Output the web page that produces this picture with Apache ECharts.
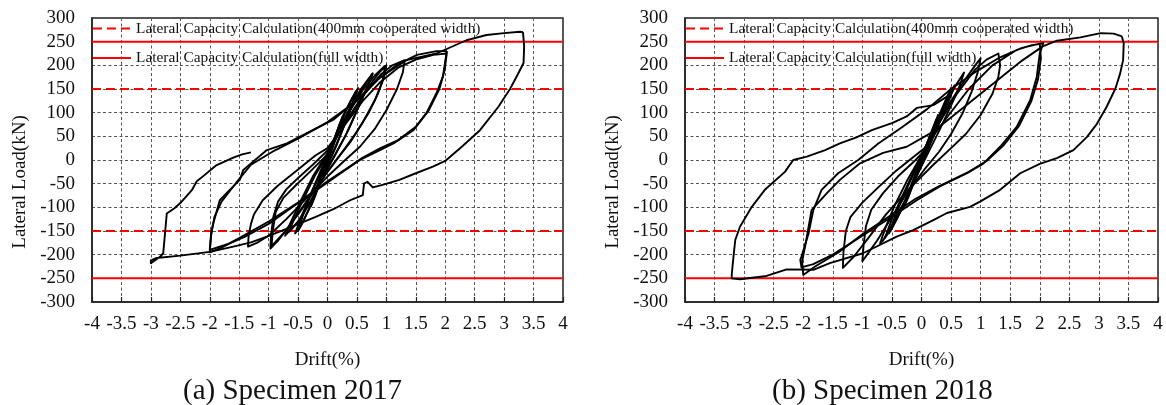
<!DOCTYPE html>
<html><head><meta charset="utf-8">
<script src="https://cdn.jsdelivr.net/npm/echarts@6/dist/echarts.min.js"></script>
<style>html,body{margin:0;padding:0;background:#fff}#c{width:1166px;height:405px}</style>
</head><body><div id="c"></div>
<script>
// ---------- axis ranges / labels ----------
const driftRange = [-4, 4];
const driftStep = 0.5;
const loadRange = [-300, 300];
const loadStep = 50;
const xTitle = 'Drift(%)';
const yTitle = 'Lateral Load(kN)';
const subTitles = ['(a) Specimen 2017', '(b) Specimen 2018'];
const legendNames = ['Lateral Capacity Calculation(400mm cooperated width)', 'Lateral Capacity Calculation(full width)'];
const cap400 = 150;   // kN, dashed
const capFull = 250;  // kN, solid

// ---------- Specimen 2017 hysteresis (drift %, load kN) ----------
const s17_025a = [[0,0],[0.1,38],[0.2,72],[0.26,92],[0.22,75],[0.12,42],[0.02,5],[-0.1,-35],[-0.2,-70],[-0.27,-92],[-0.22,-70],[-0.12,-35],[-0.02,0]];
const s17_025b = [[-0.02,0],[0.1,40],[0.2,74],[0.28,96],[0.2,66],[0.1,30],[0,-4],[-0.1,-38],[-0.2,-73],[-0.28,-98],[-0.2,-66],[-0.1,-30],[0,3]];
const s17_05a = [[0,3],[0.12,45],[0.25,90],[0.38,122],[0.48,145],[0.42,118],[0.3,78],[0.15,30],[0,-12],[-0.15,-55],[-0.3,-100],[-0.42,-132],[-0.5,-150],[-0.42,-118],[-0.28,-72],[-0.12,-28],[0,8]];
const s17_05b = [[0,8],[0.15,55],[0.3,100],[0.42,130],[0.52,152],[0.44,122],[0.3,78],[0.14,30],[-0.02,-15],[-0.18,-62],[-0.32,-105],[-0.45,-138],[-0.55,-155],[-0.42,-112],[-0.26,-64],[-0.1,-18],[0.02,12]];
const s17_075a = [[0.02,12],[0.2,65],[0.4,115],[0.58,152],[0.7,172],[0.77,183],[0.7,160],[0.55,118],[0.35,62],[0.15,15],[-0.05,-30],[-0.25,-80],[-0.45,-122],[-0.6,-145],[-0.66,-152],[-0.55,-120],[-0.38,-75],[-0.2,-30],[0,10]];
const s17_075b = [[0,10],[0.2,60],[0.4,110],[0.6,152],[0.76,182],[0.66,150],[0.5,105],[0.3,50],[0.1,5],[-0.1,-40],[-0.3,-90],[-0.5,-130],[-0.72,-160],[-0.62,-130],[-0.45,-85],[-0.25,-35],[0,15]];
const s17_10a = [[0,15],[0.2,62],[0.4,108],[0.6,148],[0.8,178],[0.95,196],[1.0,200],[0.96,175],[0.85,138],[0.7,100],[0.5,60],[0.3,25],[0.1,-8],[-0.15,-50],[-0.4,-95],[-0.65,-140],[-0.85,-172],[-0.97,-187],[-0.96,-160],[-0.92,-120],[-0.84,-88],[-0.7,-62],[-0.5,-38],[-0.25,-10],[0,20]];
const s17_10b = [[0,20],[0.25,70],[0.5,115],[0.7,155],[0.88,185],[0.98,197],[0.93,165],[0.8,125],[0.6,80],[0.4,40],[0.2,8],[0,-25],[-0.25,-70],[-0.5,-115],[-0.75,-155],[-0.95,-182],[-0.93,-150],[-0.88,-110],[-0.75,-80],[-0.55,-55],[-0.3,-25],[0,12]];
const s17_13 = [[0,12],[0.3,80],[0.6,135],[0.9,180],[1.1,200],[1.31,211],[1.28,185],[1.18,150],[1.0,105],[0.8,65],[0.55,28],[0.3,0],[0,-35],[-0.35,-80],[-0.7,-125],[-1.0,-160],[-1.2,-175],[-1.35,-183],[-1.34,-160],[-1.3,-135],[-1.25,-115],[-1.1,-85],[-0.85,-55],[-0.5,-20],[-0.2,10],[0,25]];
const s17_20a = [[0,25],[0.3,75],[0.6,125],[0.9,165],[1.2,195],[1.5,212],[1.8,222],[2.02,225],[1.96,176],[1.85,141],[1.68,99],[1.46,63],[1.12,35],[0.89,21],[0.55,0],[0.2,-30],[-0.2,-65],[-0.6,-100],[-1.0,-135],[-1.4,-162],[-1.7,-178],[-2.0,-190],[-1.97,-150],[-1.94,-134],[-1.83,-85],[-1.66,-63],[-1.49,-42],[-1.43,-21],[-1.03,21],[-0.69,35],[-0.3,60],[0.1,85],[0.5,127],[0.84,169],[1.18,201],[1.52,222],[1.85,230],[2.03,230]];
const s17_20b = [[2.03,230],[1.99,190],[1.9,150],[1.72,105],[1.5,70],[1.2,42],[0.9,25],[0.6,5],[0.3,-20],[0,-45],[-0.5,-90],[-1.0,-130],[-1.5,-165],[-1.8,-185],[-2.0,-195],[-1.98,-160],[-1.92,-120],[-1.8,-88],[-1.55,-48],[-1.3,-10],[-0.9,20],[-0.5,45],[0,80],[0.5,125],[0.9,175],[1.34,211],[1.85,225],[2.36,253],[2.7,264],[3.0,268],[3.27,271],[3.32,270]];
const s17_33 = [[3.32,270],[3.34,240],[3.33,205],[3.22,178],[3.1,150],[2.9,112],[2.59,63],[2.3,30],[2.0,-2],[1.79,-14],[1.5,-28],[1.22,-42],[0.95,-52],[0.77,-58],[0.68,-46],[0.62,-50],[0.6,-74],[0.4,-84],[0.1,-104],[-0.2,-120],[-0.47,-134],[-0.75,-148],[-1.03,-162],[-1.3,-174],[-1.6,-183],[-2.0,-194],[-2.5,-202],[-2.9,-207],[-3.0,-212],[-3.0,-218],[-2.85,-205],[-2.79,-197],[-2.76,-155],[-2.73,-113],[-2.6,-102],[-2.5,-91],[-2.3,-63],[-2.22,-45],[-2.1,-33],[-1.9,-12],[-1.6,5],[-1.45,12],[-1.3,16]];

// ---------- Specimen 2018 hysteresis (drift %, load kN) ----------
const s18_025a = [[0,0],[0.08,28],[0.16,55],[0.25,85],[0.18,60],[0.08,25],[0,-3],[-0.1,-35],[-0.2,-68],[-0.27,-90],[-0.2,-62],[-0.1,-28],[0,2]];
const s18_025b = [[0,2],[0.1,38],[0.2,70],[0.28,95],[0.2,62],[0.1,28],[-0.02,-10],[-0.12,-45],[-0.22,-78],[-0.3,-100],[-0.22,-70],[-0.1,-30],[0.01,5]];
const s18_05a = [[0.01,5],[0.15,50],[0.3,95],[0.42,130],[0.5,152],[0.42,122],[0.28,78],[0.12,30],[-0.02,-15],[-0.18,-62],[-0.35,-108],[-0.48,-140],[-0.55,-155],[-0.45,-120],[-0.3,-75],[-0.12,-25],[0.02,10]];
const s18_05b = [[0.02,10],[0.18,58],[0.35,105],[0.48,140],[0.56,158],[0.46,125],[0.3,78],[0.12,25],[-0.05,-25],[-0.22,-72],[-0.4,-120],[-0.55,-152],[-0.62,-165],[-0.5,-125],[-0.32,-75],[-0.15,-30],[0,8]];
const s18_075 = [[0,8],[0.2,65],[0.4,115],[0.58,158],[0.72,185],[0.65,158],[0.5,115],[0.3,62],[0.1,12],[-0.1,-38],[-0.3,-90],[-0.5,-138],[-0.65,-170],[-0.7,-176],[-0.6,-140],[-0.45,-95],[-0.25,-45],[0,10]];
const s18_10 = [[0,10],[0.25,72],[0.5,125],[0.75,172],[0.92,202],[1.0,215],[0.95,185],[0.85,145],[0.7,100],[0.5,55],[0.3,18],[0.05,-20],[-0.25,-70],[-0.5,-120],[-0.75,-170],[-0.92,-200],[-1.0,-214],[-0.98,-180],[-0.94,-140],[-0.85,-105],[-0.65,-70],[-0.4,-35],[-0.1,0],[0.05,20]];
const s18_13 = [[0.05,20],[0.3,78],[0.6,140],[0.9,190],[1.1,212],[1.3,225],[1.33,228],[1.33,200],[1.3,176],[1.2,140],[1.0,95],[0.75,55],[0.5,25],[0.2,-10],[-0.2,-60],[-0.6,-115],[-0.9,-165],[-1.15,-205],[-1.33,-228],[-1.32,-195],[-1.28,-150],[-1.2,-120],[-1.0,-90],[-0.75,-60],[-0.45,-25],[-0.1,10],[0.05,25]];
const s18_20a = [[0.05,25],[0.4,85],[0.8,150],[1.2,200],[1.6,232],[1.85,242],[2.06,247],[2.0,225],[1.95,176],[1.84,127],[1.61,70],[1.33,28],[1.05,-7],[0.77,-28],[0.31,-56],[-0.08,-85],[-0.5,-120],[-1.0,-160],[-1.5,-200],[-1.83,-220],[-2.03,-227],[-2.05,-211],[-2.03,-204],[-1.91,-155],[-1.83,-106],[-1.69,-63],[-1.41,-28],[-1.07,0],[-0.73,35],[-0.3,72],[0.1,108],[0.5,150],[0.9,185],[1.3,215],[1.7,237],[2.0,246]];
const s18_20b = [[2.0,246],[2.02,215],[1.97,170],[1.86,125],[1.65,72],[1.38,30],[1.1,-2],[0.8,-25],[0.3,-55],[-0.1,-82],[-0.5,-115],[-1.0,-157],[-1.4,-195],[-1.8,-225],[-2.0,-243],[-2.02,-215],[-1.95,-170],[-1.86,-106],[-1.6,-70],[-1.38,-42],[-1.04,-7],[-0.65,15],[-0.25,28],[0.2,60],[0.7,110],[1.2,160],[1.7,210],[2.05,240],[2.29,252],[2.69,259],[3.03,268],[3.25,267],[3.39,261]];
const s18_33 = [[3.39,261],[3.42,246],[3.41,211],[3.36,183],[3.28,151],[3.13,112],[2.97,77],[2.8,49],[2.57,21],[2.29,4],[2.0,-8],[1.67,-28],[1.33,-63],[0.99,-88],[0.82,-99],[0.43,-112],[0.2,-127],[-0.14,-148],[-0.42,-162],[-0.99,-197],[-1.55,-218],[-1.83,-232],[-2.28,-231],[-2.62,-245],[-3.07,-252],[-3.21,-250],[-3.21,-243],[-3.18,-204],[-3.15,-169],[-3.07,-141],[-2.87,-99],[-2.65,-63],[-2.31,-25],[-2.17,0],[-1.94,7],[-1.63,21],[-1.38,35],[-1.1,48],[-0.84,63],[-0.5,78],[-0.25,92],[-0.08,110],[0.2,116],[0.43,134],[0.5,140]];

const curve2017 = [s17_025a, s17_025b, s17_05a, s17_05b, s17_075a, s17_075b, s17_10a, s17_10b, s17_13, s17_20a, s17_20b, s17_33];
const curve2018 = [s18_025a, s18_025b, s18_05a, s18_05b, s18_075, s18_10, s18_13, s18_20a, s18_20b, s18_33];

// ---------- chart ----------
const FONT = "'Times New Roman', 'Liberation Serif', serif";
const chart = echarts.init(document.getElementById('c'), null, {renderer: 'canvas'});
const grids = [
  {left: 92, top: 18, width: 471, height: 284},
  {left: 685, top: 18, width: 473, height: 284}
];
function xAx(i){
  return {gridIndex: i, type: 'value', min: driftRange[0], max: driftRange[1], interval: driftStep,
    name: xTitle, nameLocation: 'middle', nameGap: 49, nameMoveOverlap: false,
    nameTextStyle: {fontFamily: FONT, fontSize: 19, color: '#111'},
    axisLine: {show: true, onZero: false, lineStyle: {color: '#222', width: 1.5}},
    axisTick: {show: true, inside: true, length: 5, lineStyle: {color: '#222', width: 1.2}},
    axisLabel: {fontFamily: FONT, fontSize: 19, color: '#111', margin: 13, hideOverlap: false, showMinLabel: true, showMaxLabel: true},
    splitLine: {show: true, lineStyle: {color: '#555', type: [3, 2.5], width: 1}}};
}
function yAx(i){
  return {gridIndex: i, type: 'value', min: loadRange[0], max: loadRange[1], interval: loadStep,
    name: yTitle, nameLocation: 'middle', nameGap: 62, nameMoveOverlap: false,
    nameTextStyle: {fontFamily: FONT, fontSize: 19, color: '#111', padding: [0, 44, 0, 0]},
    axisLine: {show: true, onZero: false, lineStyle: {color: '#222', width: 1.5}},
    axisTick: {show: false},
    axisLabel: {fontFamily: FONT, fontSize: 19, color: '#111', margin: 17, hideOverlap: false, showMinLabel: true, showMaxLabel: true},
    splitLine: {show: true, lineStyle: {color: '#555', type: [3, 2.5], width: 1}}};
}
const series = [];
[0, 1].forEach(function(i){
  [cap400, -cap400].forEach(function(v){
    series.push({name: legendNames[0], type: 'line', xAxisIndex: i, yAxisIndex: i, symbol: 'none', showSymbol: false, silent: true, z: 2,
      lineStyle: {color: '#ff0000', width: 2, type: [9, 5]}, itemStyle: {color: '#ff0000'},
      data: [[driftRange[0], v], [driftRange[1], v]]});
  });
  [capFull, -capFull].forEach(function(v){
    series.push({name: legendNames[1], type: 'line', xAxisIndex: i, yAxisIndex: i, symbol: 'none', showSymbol: false, silent: true, z: 2,
      lineStyle: {color: '#ff0000', width: 2, type: 'solid'}, itemStyle: {color: '#ff0000'},
      data: [[driftRange[0], v], [driftRange[1], v]]});
  });
  const curves = i === 0 ? curve2017 : curve2018;
  curves.forEach(function(c){
    series.push({type: 'line', xAxisIndex: i, yAxisIndex: i, symbol: 'none', silent: true, z: 3,
      lineStyle: {color: '#000', width: 1.9, join: 'round'}, data: c});
  });
});
function legendAt(left){
  return {orient: 'vertical', left: left, top: 21, padding: 0, itemWidth: 38, itemHeight: 14, itemGap: 14.4,
    data: legendNames, selectedMode: false,
    itemStyle: {opacity: 0, borderWidth: 0},
    lineStyle: {width: 2},
    textStyle: {fontFamily: FONT, fontSize: 15.4, color: '#111'}};
}
chart.setOption({
  animation: false,
  backgroundColor: '#fff',
  title: [
    {text: subTitles[0], left: 183, top: 377, padding: 0, textStyle: {fontFamily: FONT, fontSize: 29, fontWeight: 'normal', color: '#111'}},
    {text: subTitles[1], left: 772, top: 377, padding: 0, textStyle: {fontFamily: FONT, fontSize: 29, fontWeight: 'normal', color: '#111'}}
  ],
  legend: [legendAt(92), legendAt(685)],
  grid: grids.map(function(g){ return Object.assign({show: true, borderColor: '#222', borderWidth: 1.5, backgroundColor: 'transparent', containLabel: false, outerBoundsMode: 'none'}, g); }),
  xAxis: [xAx(0), xAx(1)],
  yAxis: [yAx(0), yAx(1)],
  series: series
});
</script></body></html>
